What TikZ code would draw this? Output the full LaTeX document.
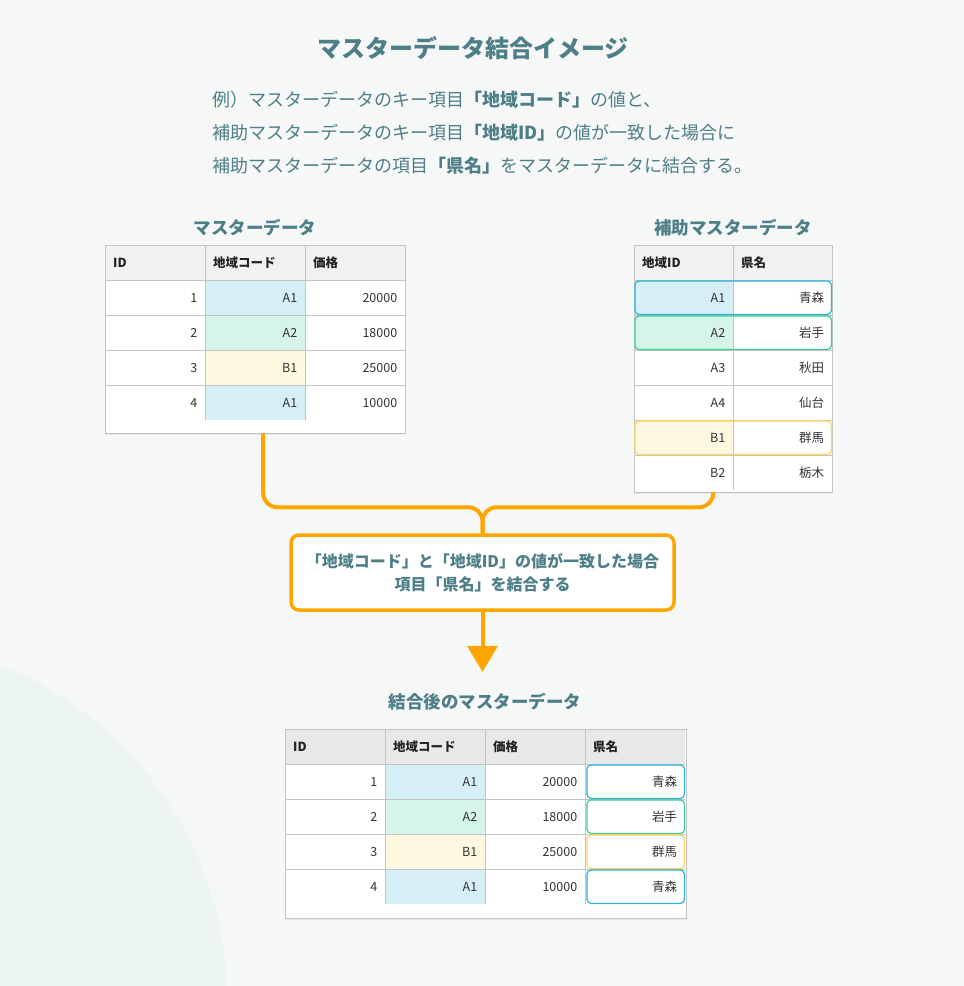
\documentclass[tikz,border=0pt]{standalone}
\usepackage{fontspec}
\setmainfont{Noto Sans CJK JP}
\usetikzlibrary{positioning,arrows.meta,shadows}

\definecolor{bgpage}{HTML}{F6F8F7}
\definecolor{bgcircle}{HTML}{EDF5F4}
\definecolor{ink}{HTML}{4E7E87}
\definecolor{celltext}{HTML}{333333}
\definecolor{headtext}{HTML}{222222}
\definecolor{gridline}{HTML}{C4C4C4}
\definecolor{headfill}{HTML}{F1F1F1}
\definecolor{headfilldark}{HTML}{E8E8E8}
\definecolor{flowcol}{HTML}{FFA500}
\definecolor{blueF}{HTML}{D6EFF6}
\definecolor{blueL}{HTML}{2BB3D9}
\definecolor{greenF}{HTML}{D6F5E8}
\definecolor{greenL}{HTML}{3CCF93}
\definecolor{yellowF}{HTML}{FEF8E1}
\definecolor{yellowL}{HTML}{FFD65C}

\tikzset{
  tcell/.style={minimum width=100pt, minimum height=35pt, text width=84pt,
    inner xsep=8pt, inner ysep=0pt, align=right, anchor=north west,
    font=\fontsize{12.5}{14}\selectfont, text=celltext},
  thead/.style={tcell, align=left, font=\fontsize{12.5}{14}\selectfont\bfseries, text=headtext},
  tframe/.style={fill=white, anchor=north west, inner sep=0pt,
    drop shadow={shadow xshift=0pt, shadow yshift=-2pt, opacity=0.12}},
  ttitle/.style={font=\fontsize{17.5}{20}\selectfont\bfseries, text=ink},
  hlbox/.style={draw=#1, line width=1.2pt, rounded corners=4pt},
  flowline/.style={draw=flowcol, line width=4pt, rounded corners=14pt},
}

\begin{document}
\begin{tikzpicture}[x=1pt, y=-1pt]
  \useasboundingbox (0,0) rectangle (964,986);
  % Background
  \fill[bgpage] (0,0) rectangle (964,986);
  \begin{scope}
    \clip (0,0) rectangle (964,986);
    \fill[bgcircle] (-134,1000) circle (361pt);
  \end{scope}

  % Heading and explanation
  \node[font=\fontsize{24}{28}\selectfont\bfseries, text=ink] (title) at (473,48) {マスターデータ結合イメージ};
  \node[font=\fontsize{18}{33}\selectfont, text=ink, align=left, anchor=west, inner sep=0pt] (desc) at (212,133)
    {例）マスターデータのキー項目\textbf{「地域コード」}の値と、\\
     補助マスターデータのキー項目\textbf{「地域ID」}の値が一致した場合に\\
     補助マスターデータの項目\textbf{「県名」}をマスターデータに結合する。};

  % Master table
  \node[ttitle] (mtitle) at (255,228) {マスターデータ};
  \node[tframe, minimum width=300pt, minimum height=188pt] (mtab) at (105,245) {};
  \foreach \c/\h in {1/ID, 2/地域コード, 3/価格}
    \node[thead, fill=headfill] (m-0-\c) at ({105+100*(\c-1)},245) {\h};
  \foreach \r/\rid/\rcode/\rprice/\rtone in {1/1/A1/20000/blueF, 2/2/A2/18000/greenF,
      3/3/B1/25000/yellowF, 4/4/A1/10000/blueF} {
    \node[tcell] (m-\r-1) at (105,{245+35*\r}) {\rid};
    \node[tcell, fill=\rtone] (m-\r-2) at (205,{245+35*\r}) {\rcode};
    \node[tcell] (m-\r-3) at (305,{245+35*\r}) {\rprice};
  }
  \foreach \r in {1,...,4}
    \draw[gridline] (m-\r-1.north west) -- (m-\r-3.north east);
  \foreach \c in {2,3}
    \draw[gridline] (m-0-\c.north west) -- (m-4-\c.south west);
  \draw[gridline] (mtab.north west) rectangle (mtab.south east);

  % Sub master table
  \node[ttitle] (stitle) at (733,228) {補助マスターデータ};
  \node[tframe, minimum width=198pt, minimum height=247pt] (stab) at (634,245) {};
  \foreach \c/\h in {1/地域ID, 2/県名}
    \node[thead, fill=headfill, minimum width=99pt, text width=83pt] (s-0-\c) at ({634+99*(\c-1)},245) {\h};
  \foreach \r/\rcode/\rpref/\rtone in {1/A1/青森/blueF, 2/A2/岩手/greenF, 3/A3/秋田/white,
      4/A4/仙台/white, 5/B1/群馬/yellowF, 6/B2/栃木/white} {
    \node[tcell, fill=\rtone, minimum width=99pt, text width=83pt] (s-\r-1) at (634,{245+35*\r}) {\rcode};
    \node[tcell, minimum width=99pt, text width=83pt] (s-\r-2) at (733,{245+35*\r}) {\rpref};
  }
  \foreach \r in {1,...,6}
    \draw[gridline] (s-\r-1.north west) -- (s-\r-2.north east);
  \draw[gridline] (s-0-2.north west) -- (s-6-2.south west);
  \draw[gridline] (stab.north west) rectangle (stab.south east);
  \foreach \r/\rline in {1/blueL, 2/greenL, 5/yellowL}
    \draw[hlbox=\rline] ([shift={(1pt,-1pt)}]s-\r-1.north west) rectangle ([shift={(-1pt,1pt)}]s-\r-2.south east);

  % Join condition
  \node[draw=flowcol, line width=3.5pt, rounded corners=8pt, fill=white,
    minimum width=383pt, minimum height=75pt, align=center,
    font=\fontsize{16}{23}\selectfont\bfseries, text=ink] (cond) at (482.5,572.5)
    {「地域コード」と「地域ID」の値が一致した場合\\項目「県名」を結合する};
  \draw[flowline] ([xshift=8pt]mtab.south) |- ([yshift=26pt]cond.north) -- (cond.north);
  \draw[flowline] ([xshift=-20pt]stab.south) |- ([yshift=26pt]cond.north) -- (cond.north);

  % Result table
  \node[ttitle] (rtitle) at (485,702) {結合後のマスターデータ};
  \draw[flowline, shorten >=18pt, -{Triangle[width=30pt,length=26pt]}] (cond.south) -- (cond.south |- rtitle.north);
  \node[tframe, minimum width=401pt, minimum height=189pt] (rtab) at (285,729) {};
  \foreach \c/\h in {1/ID, 2/地域コード, 3/価格, 4/県名}
    \node[thead, fill=headfilldark] (r-0-\c) at ({285+100*(\c-1)},729) {\h};
  \foreach \r/\rid/\rcode/\rprice/\rpref/\rtone in {1/1/A1/20000/青森/blueF,
      2/2/A2/18000/岩手/greenF, 3/3/B1/25000/群馬/yellowF, 4/4/A1/10000/青森/blueF} {
    \node[tcell] (r-\r-1) at (285,{729+35*\r}) {\rid};
    \node[tcell, fill=\rtone] (r-\r-2) at (385,{729+35*\r}) {\rcode};
    \node[tcell] (r-\r-3) at (485,{729+35*\r}) {\rprice};
    \node[tcell] (r-\r-4) at (585,{729+35*\r}) {\rpref};
  }
  \foreach \r in {1,...,4}
    \draw[gridline] (r-\r-1.north west) -- (r-\r-4.north east);
  \foreach \c in {2,3,4}
    \draw[gridline] (r-0-\c.north west) -- (r-4-\c.south west);
  \draw[gridline] (rtab.north west) rectangle (rtab.south east);
  \foreach \r/\rline in {1/blueL, 2/greenL, 3/yellowL, 4/blueL}
    \draw[hlbox=\rline] ([shift={(2pt,-1pt)}]r-\r-4.north west) rectangle ([shift={(-1pt,1pt)}]r-\r-4.south east);
\end{tikzpicture}
\end{document}
